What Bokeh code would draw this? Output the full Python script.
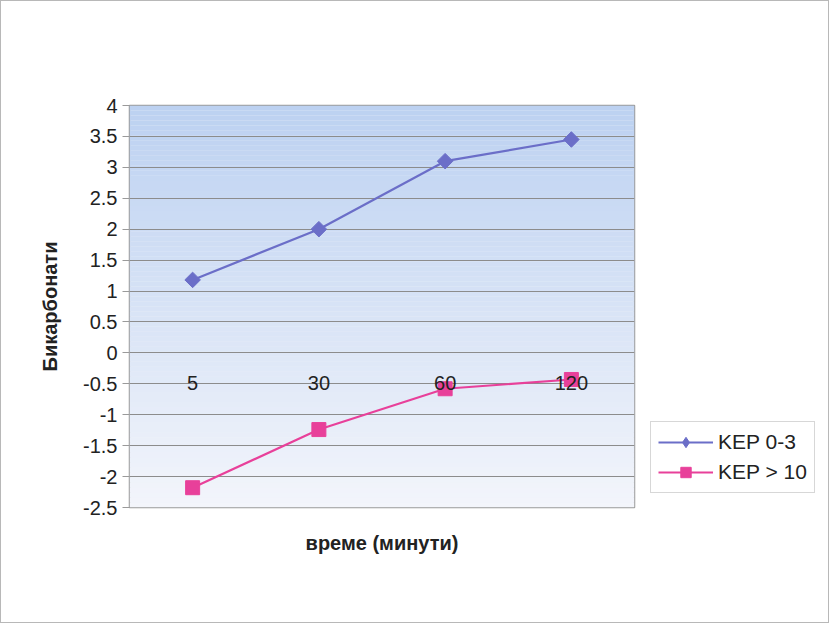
import math
from bokeh.plotting import figure
from bokeh.layouts import row
from bokeh.models import FactorRange, FixedTicker, Legend, LegendItem, BoxAnnotation, ColumnDataSource
from bokeh.core.properties import value
from bokeh.embed import file_html
from bokeh.resources import INLINE

categories = ["5", "30", "60", "120"]
kep_0_3 = [1.18, 2.0, 3.1, 3.45]
kep_gt_10 = [-2.18, -1.24, -0.58, -0.43]
y_ticks = [-2.5, -2.0, -1.5, -1.0, -0.5, 0.0, 0.5, 1.0, 1.5, 2.0, 2.5, 3.0, 3.5, 4.0]
series_names = ["KEP 0-3", "KEP > 10"]
x_title = "време (минути)"
y_title = "Бикарбонати"

FONT = "Liberation Sans"
BLUE = "#6b6ec8"
PINK = "#e8409a"
H = 621

p = figure(width=649, height=H, output_backend="svg", toolbar_location=None,
           x_range=FactorRange(factors=categories, range_padding=0),
           y_range=(y_ticks[0], y_ticks[-1]),
           min_border_left=128, min_border_right=16, min_border_top=104, min_border_bottom=115)
p.background_fill_color = "#eef2f9"
p.border_fill_color = "white"
p.outline_line_color = "#9a9a9a"
p.outline_line_width = 1.5

# vertical gradient background (top light blue -> bottom nearly white)
n = 80
lo, hi = y_ticks[0], y_ticks[-1]
c_top = (0xbc, 0xd1, 0xf1)
c_bot = (0xf3, 0xf5, 0xfb)
for i in range(n):
    b = lo + (hi - lo) * i / n
    t = lo + (hi - lo) * (i + 1) / n
    f = (i + 0.5) / n
    col = tuple(int(round(c_bot[k] + (c_top[k] - c_bot[k]) * f)) for k in range(3))
    p.add_layout(BoxAnnotation(bottom=b, top=t, fill_color="#%02x%02x%02x" % col, fill_alpha=1.0,
                               line_alpha=0, level="image"))

p.yaxis.ticker = FixedTicker(ticks=y_ticks)
p.yaxis.major_label_overrides = {t: f"{t:g}" for t in y_ticks}
p.yaxis.major_label_text_font = FONT
p.yaxis.major_label_text_font_size = "20px"
p.yaxis.major_label_text_color = "#222222"
p.yaxis.axis_line_color = None
p.yaxis.major_tick_line_color = "#9a9a9a"
p.yaxis.major_tick_out = 7
p.yaxis.major_tick_in = 0
p.yaxis.minor_tick_line_color = None
p.yaxis.axis_label = y_title
p.yaxis.axis_label_text_font = FONT
p.yaxis.axis_label_text_font_style = "bold"
p.yaxis.axis_label_text_font_size = "20px"
p.yaxis.axis_label_text_color = "#222222"
p.yaxis.axis_label_standoff = 19

p.xaxis.axis_line_color = None
p.xaxis.major_tick_line_color = None
p.xaxis.minor_tick_line_color = None
p.xaxis.major_tick_out = 0
p.xaxis.major_label_text_font_size = "10px"
p.xaxis.major_label_text_color = None
p.xaxis.axis_label = x_title
p.xaxis.axis_label_text_font = FONT
p.xaxis.axis_label_text_font_style = "bold"
p.xaxis.axis_label_text_font_size = "20px"
p.xaxis.axis_label_text_color = "#222222"
p.xaxis.axis_label_standoff = 24

p.xgrid.grid_line_color = None
p.ygrid.grid_line_color = "#8c8c8c"
p.ygrid.grid_line_width = 1

src = ColumnDataSource(dict(x=categories, a=kep_0_3, b=kep_gt_10, zero=[0] * len(categories)))

p.line("x", "a", source=src, line_color=BLUE, line_width=2.2)
p.scatter("x", "a", source=src, marker="square", size=11, angle=math.pi / 4,
          fill_color=BLUE, line_color=BLUE)
p.line("x", "b", source=src, line_color=PINK, line_width=2.2)
p.scatter("x", "b", source=src, marker="square", size=14, fill_color=PINK, line_color=PINK)

p.text("x", "zero", text="x", source=src, text_font=value(FONT), text_font_size="20px",
       text_color="#222222", text_align="center", text_baseline="middle", y_offset=30)

# legend panel (separate figure to the right of the plot area)
lg = figure(width=178, height=H, output_backend="svg", toolbar_location=None,
            x_range=FactorRange(factors=categories), y_range=(100, 101),
            min_border_left=0, min_border_right=0, min_border_top=0, min_border_bottom=0)
lg.axis.visible = False
lg.grid.visible = False
lg.outline_line_color = None
lg.background_fill_color = "white"
lg.border_fill_color = "white"
ll1 = lg.line("x", "a", source=src, line_color=BLUE, line_width=2.2)
lm1 = lg.scatter("x", "a", source=src, marker="diamond", size=18, fill_color=BLUE, line_color=BLUE)
ll2 = lg.line("x", "b", source=src, line_color=PINK, line_width=2.2)
lm2 = lg.scatter("x", "b", source=src, marker="square", size=14, fill_color=PINK, line_color=PINK)

legend = Legend(items=[LegendItem(label=series_names[0], renderers=[ll1, lm1]),
                       LegendItem(label=series_names[1], renderers=[ll2, lm2])],
                location=(0, 14), orientation="vertical",
                label_text_font=FONT, label_text_font_size="21px", label_text_color="#222222",
                glyph_width=55, glyph_height=26, label_standoff=5, spacing=4,
                padding=7, margin=0, border_line_color="#b0b0b0", border_line_width=1,
                background_fill_color="white", background_fill_alpha=1.0)
lg.add_layout(legend, "center")

layout = row(p, lg, spacing=0)
layout.styles = {"border": "1px solid #b8b8b8"}

open("out.html", "w").write(file_html(layout, INLINE))
